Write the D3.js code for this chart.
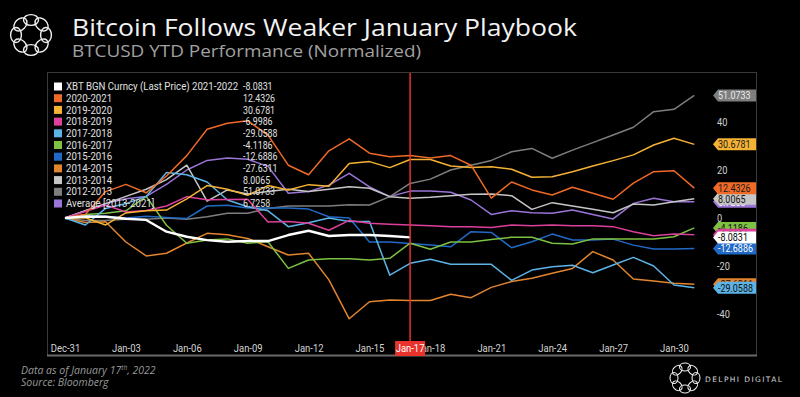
<!DOCTYPE html>
<html><head><meta charset="utf-8">
<script src="https://cdn.jsdelivr.net/npm/d3@7"></script>
<style>
html,body{margin:0;padding:0;background:#000;}
svg{display:block;}
.cond{font-family:Roboto,"Liberation Sans",sans-serif;}
</style></head>
<body>
<svg id="chart" width="800" height="397"></svg>
<script>
// ---------- DATA ----------
const categories = ["Dec-31","Jan-01","Jan-02","Jan-03","Jan-04","Jan-05","Jan-06","Jan-07","Jan-08","Jan-09","Jan-10",
  "Jan-11","Jan-12","Jan-13","Jan-14","Jan-15","Jan-16","Jan-17","Jan-18","Jan-19","Jan-20","Jan-21","Jan-22","Jan-23",
  "Jan-24","Jan-25","Jan-26","Jan-27","Jan-28","Jan-29","Jan-30","Jan-31"];
const xTickLabels = ["Dec-31","Jan-03","Jan-06","Jan-09","Jan-12","Jan-15","Jan-18","Jan-21","Jan-24","Jan-27","Jan-30"];
const yTickValues = [-40,-20,0,20,40];
const markerDate = "Jan-17";

const seriesNames = ["XBT BGN Curncy (Last Price) 2021-2022","2020-2021","2019-2020","2018-2019","2017-2018",
  "2016-2017","2015-2016","2014-2015","2013-2014","2012-2013","Average  [2013-2021]"];
const lastValues = [-8.0831,12.4326,30.6781,-6.9986,-29.0588,-4.1186,-12.6886,-27.6311,8.0065,51.0733,6.7258];

const xbt2122 = [0,0.6,0.5,-0.3,-0.8,-5.7,-7.8,-9.2,-9.9,-9.6,-9.6,-7.1,-5.3,-7.5,-7.1,-7.1,-7.5,-8.0831];
const s2021 = [0,1.5,11,14,10.5,17.5,26,37,39.5,40.5,34.5,22,18,28,33,27,25.5,26,25,26,22,8.3,15,11.7,9.6,12.8,10.3,7.8,14.5,19.3,19.7,12.4326];
const s1920 = [0,0.1,-2.9,2.1,3,3.3,8,13.5,12,9.5,13.5,11.7,13.9,13.2,22.7,23.5,21,24.4,24.4,21.7,21,21.4,20.3,17,17.2,19.3,21.7,23.9,26.3,30.4,33.2,30.6781];
const s1819 = [0,2.7,5.4,2.5,3.1,5,8.9,7.6,7.7,7.8,-1.7,-1.5,-2.2,-5.1,-1,-2.2,-2.6,-2.9,-3.2,-3.6,-3.6,-4,-2.9,-3.2,-2.9,-3.2,-3.2,-3.6,-5.7,-7.4,-6.7,-6.9986];
const s1718 = [0,-2.9,4,6,9,19,18,15,7.5,4.7,3,-3.6,-2,0,-1.5,-1.5,-23.8,-18.9,-17.2,-19.3,-19.3,-19.3,-26,-21.7,-20.3,-19.7,-22.8,-19.6,-16.4,-20,-27.9,-29.0588];
const s1617 = [0,1.5,2,3,9,-3,-10.5,-9.2,-8.7,-10.5,-9.9,-21,-17.5,-17,-17,-17.5,-16.8,-10.5,-13,-10,-10,-9,-8,-8,-10.5,-10.8,-8.7,-8.7,-8.7,-8.7,-7.8,-4.1186];
const s1516 = [0,0.9,0.7,0,0.7,0.2,-0.2,5,5.3,4.2,4.2,4.2,3.7,0.5,0,-10,-10,-10.6,-11.3,-12,-5.7,-6,-12.4,-9.9,-6.7,-9.2,-9.2,-8.8,-11.3,-12.9,-12.9,-12.6886];
const s1415 = [0,-1.9,-1.6,-10,-15.8,-14.7,-10.4,-6.4,-7,-8.5,-12,-15.4,-14.7,-25.8,-42,-34.9,-34.2,-34.4,-34.4,-31.8,-33.2,-28.9,-26.5,-25.1,-23,-21,-14,-17.5,-25.4,-26.3,-27.2,-27.6311];
const s1314 = [0,3,6,9,12,16,22,7,11.7,10,11,12,11,12,13,12.4,8.9,8.2,8.6,9.3,9.9,10,9.3,3.6,6.4,5,3.6,2.2,5.8,5.4,6.8,8.0065];
const s1213 = [0,-1,-1,-0.5,-0.5,0,-0.5,0.5,2,2,4,5,5,5,5.5,5.4,8.9,14.4,16.2,20,22,24,27.6,29,24.9,28.3,31.4,34.6,37.8,44.3,45.3,51.0733];
const sAvg = [0,3,6,8,9,14,20,24,25,24.5,21.5,10.3,11,13.7,18.6,13,8.9,11.2,11.2,10.7,7.5,1.5,3,2.2,2,3.3,1.5,-0.4,6.1,8.2,6.8,6.7258];

const seriesValues = [xbt2122,s2021,s1920,s1819,s1718,s1617,s1516,s1415,s1314,s1213,sAvg];

// ---------- STYLE ----------
const colors = ["#ffffff","#EE6A26","#F5B233","#DD3F9C","#5CB3E6","#7DC242","#2169C6","#E3852E","#C6C6C6","#7E7E7E","#9B74D8"];
const tagText = ["#000","#1a1a1a","#1a1a1a","#000","#111","#111","#fff","#111","#111","#e8e8e8","#fff"];

function squeeze(sel, f){
  sel.each(function(){
    const L = this.getComputedTextLength();
    d3.select(this).attr("textLength", L*f).attr("lengthAdjust","spacingAndGlyphs");
  });
}

const svg = d3.select("#chart");
svg.append("rect").attr("width",800).attr("height",397).attr("fill","#000");

// chart frame
svg.append("rect").attr("x",47.5).attr("y",72.5).attr("width",709).attr("height",283)
  .attr("fill","none").attr("stroke","#3a3a3a").attr("stroke-width",1);
svg.append("line").attr("x1",47).attr("x2",757).attr("y1",355.5).attr("y2",355.5)
  .attr("stroke","#6a6a6a").attr("stroke-width",2);

const x = d3.scalePoint().domain(categories).range([65,694.3]);
const y = d3.scaleLinear().domain([-40,40]).range([314,122]);

// title
svg.append("text").attr("x",72).attr("y",36).attr("fill","#f2f2f2")
  .style("font-family","'Open Sans',Lato,sans-serif").style("font-size","24.5px")
  .attr("textLength",505).attr("lengthAdjust","spacingAndGlyphs")
  .text("Bitcoin Follows Weaker January Playbook");
svg.append("text").attr("x",72).attr("y",57).attr("fill","#a0a0a0")
  .style("font-family","'Open Sans',Lato,sans-serif").style("font-size","16px")
  .attr("textLength",349).attr("lengthAdjust","spacingAndGlyphs")
  .text("BTCUSD YTD Performance (Normalized)");

// logo
function logo(cx,cy,R,r,sw){
  const g = svg.append("g");
  const n=8;
  for(let i=0;i<n;i++){
    const a = i/n*2*Math.PI;
    g.append("ellipse").attr("cx",cx+R*Math.cos(a)).attr("cy",cy+R*Math.sin(a))
      .attr("rx",r).attr("ry",r*0.72)
      .attr("transform",`rotate(${a*180/Math.PI+90},${cx+R*Math.cos(a)},${cy+R*Math.sin(a)})`)
      .attr("fill","none").attr("stroke","#f0f0f0").attr("stroke-width",sw);
  }
}
logo(31,35,15,7.5,1.4);
logo(685,378,11,5.5,1.1);
svg.append("text").attr("x",705).attr("y",382).attr("fill","#d8d8d8")
  .style("font-family","'DejaVu Sans',sans-serif").style("font-size","7.5px").style("letter-spacing","1.4px")
  .text("DELPHI DIGITAL");

// footer
const foot = svg.append("g").style("font-family","'Open Sans',Lato,sans-serif").style("font-style","italic")
  .style("font-size","10.5px").attr("fill","#9a9a9a");
const ft = foot.append("text").attr("x",21).attr("y",374);
ft.append("tspan").text("Data as of January 17");
ft.append("tspan").attr("dy",-4).style("font-size","6.5px").text("th");
ft.append("tspan").attr("dy",4).text(", 2022");
foot.append("text").attr("x",21).attr("y",386).text("Source: Bloomberg");

// x axis
const xAxis = d3.axisBottom(x).tickValues(xTickLabels).tickSize(0).tickPadding(4);
const gx = svg.append("g").attr("transform","translate(0,341)").call(xAxis);
gx.select(".domain").remove();
gx.selectAll("text").attr("fill","#d4d4d4").attr("class","cond").style("font-size","10.5px")
  .style("font-family","Roboto,sans-serif");
squeeze(gx.selectAll("text"), 0.9);

// y labels
const gy = svg.append("g");
gy.selectAll("text").data(yTickValues).join("text")
  .attr("class","cond").attr("x",717).attr("y",d=>y(d)).attr("dy","0.35em")
  .attr("fill","#d0d0d0").style("font-size","10.5px").text(d=>d);
squeeze(gy.selectAll("text"), 0.88);

// lines (back to front)
const line = d3.line().x((d,i)=>x(categories[i])).y(d=>y(d));
const order = d3.range(seriesValues.length).reverse();
svg.append("g").selectAll("path").data(order).join("path")
  .attr("d",i=>line(seriesValues[i]))
  .attr("fill","none").attr("stroke",i=>colors[i])
  .attr("stroke-width",i=>i===0?2.4:1.5).attr("stroke-linejoin","round");

// marker line
svg.append("line").attr("x1",x(markerDate)).attr("x2",x(markerDate)).attr("y1",73).attr("y2",341)
  .attr("stroke","#E8322C").attr("stroke-width",1.5);
svg.append("rect").attr("x",x(markerDate)-15).attr("y",341).attr("width",30).attr("height",15).attr("fill","#E8322C");
const mk = svg.append("text").attr("class","cond").attr("x",x(markerDate)).attr("y",352).attr("text-anchor","middle")
  .attr("fill","#fff").style("font-size","10.5px").text(markerDate);
squeeze(mk, 0.9);

// legend
const lg = svg.append("g").attr("class","cond").style("font-size","10.5px");
seriesNames.forEach((n,i)=>{
  const yy = 86.5 + i*11.7;
  lg.append("rect").attr("x",54).attr("y",yy-4).attr("width",8).attr("height",8).attr("fill",colors[i]);
  lg.append("text").attr("class","lname").attr("x",66).attr("y",yy).attr("dy","0.35em").attr("fill","#e0e0e0").text(n);
  lg.append("text").attr("class","lval").attr("x",243).attr("y",yy).attr("dy","0.35em").attr("fill","#e0e0e0").text(lastValues[i].toFixed(4));
});
squeeze(lg.selectAll(".lname"), 0.92);
squeeze(lg.selectAll(".lval"), 0.84);

// value tags (back to front)
const tg = svg.append("g").attr("class","cond").style("font-size","10.5px");
order.forEach(i=>{
  const yy = y(lastValues[i]);
  const x0=713, x1=756, h=6;
  tg.append("path").attr("d",`M${x0},${yy} L${x0+5},${yy-h} L${x1},${yy-h} L${x1},${yy+h} L${x0+5},${yy+h} Z`)
    .attr("fill",colors[i]);
  tg.append("text").attr("x",718).attr("y",yy).attr("dy","0.36em").attr("fill",tagText[i]).text(lastValues[i].toFixed(4));
});
squeeze(tg.selectAll("text"), 0.85);
</script>
</body></html>
